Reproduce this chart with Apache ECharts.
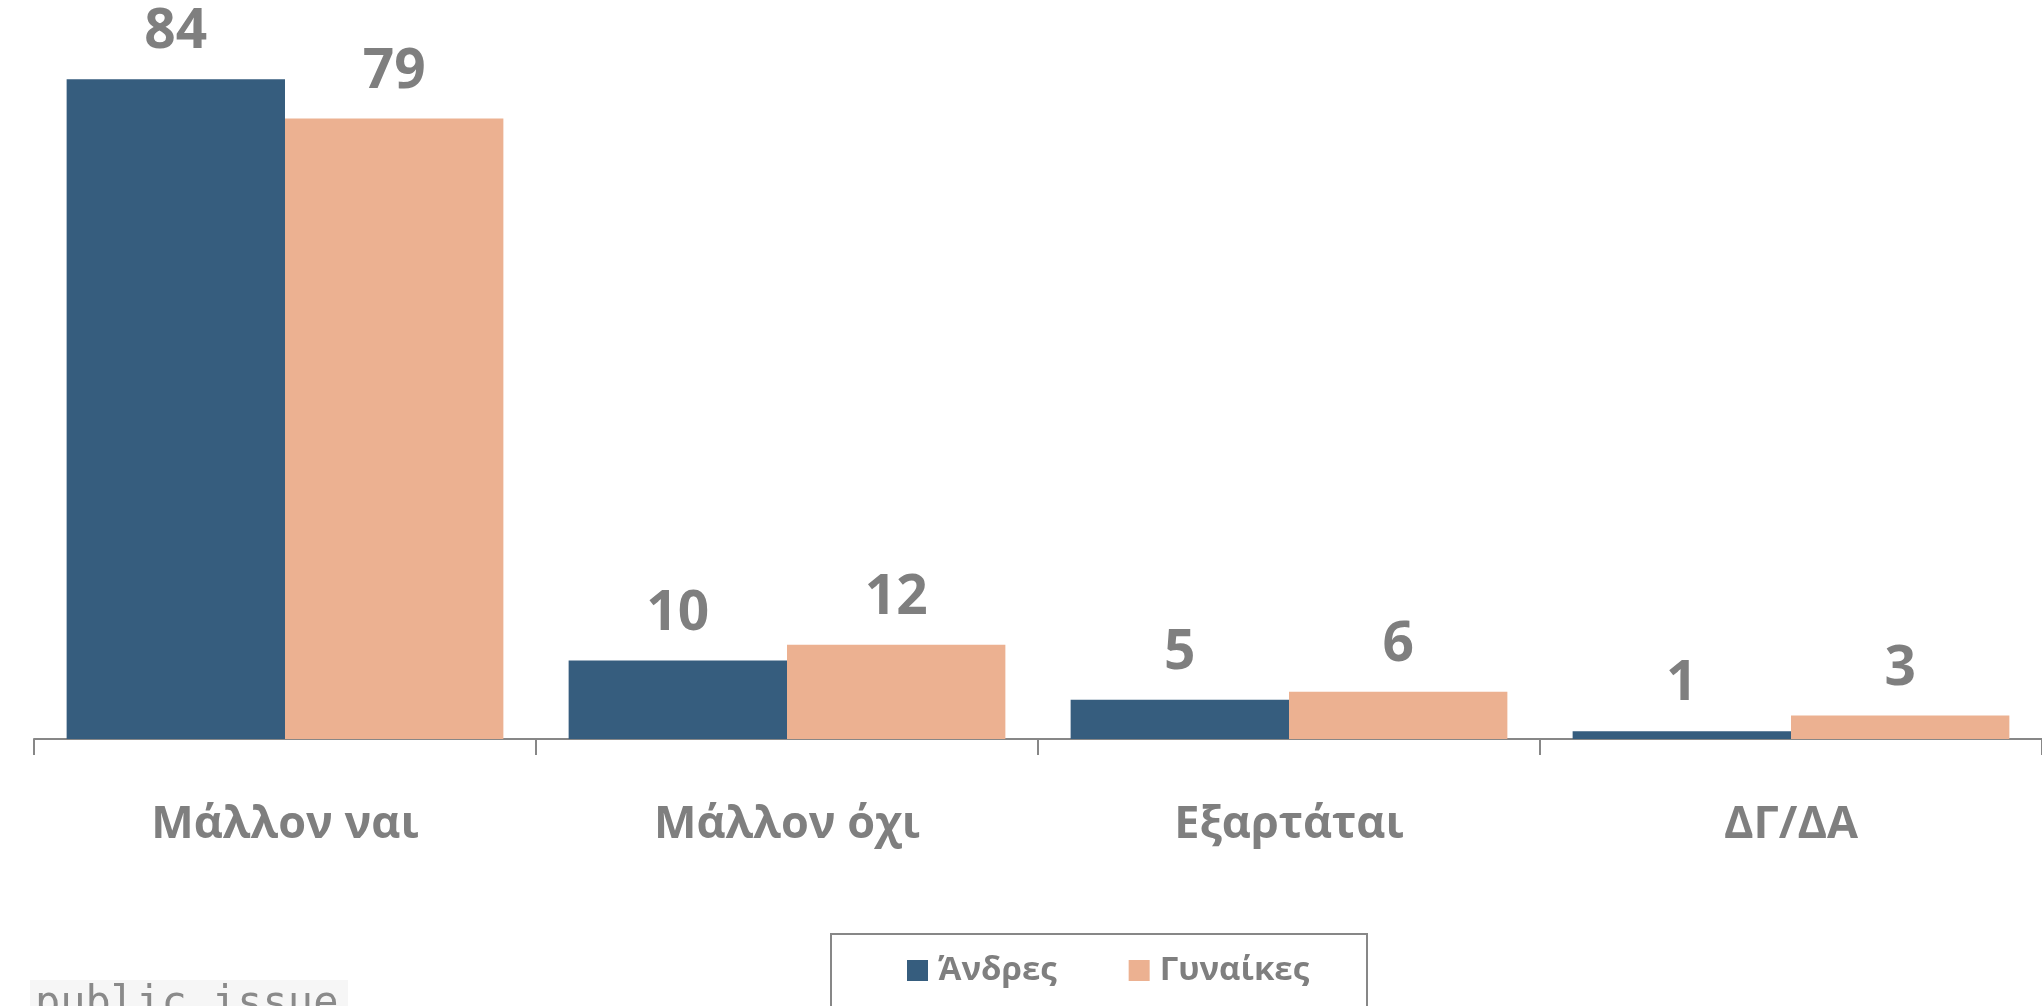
<!DOCTYPE html>
<html>
<head>
<meta charset="utf-8">
<script src="https://cdn.jsdelivr.net/npm/echarts@6/dist/echarts.min.js"></script>
<style>
  html, body { margin: 0; padding: 0; background: #fff; }
  #main { width: 2042px; height: 1006px; }
</style>
</head>
<body>
<div id="main"></div>
<script>
// κατηγορίες και τιμές (%)
var categories = ['Μάλλον ναι', 'Μάλλον όχι', 'Εξαρτάται', 'ΔΓ/ΔΑ'];
var andres = [84, 10, 5, 1];
var gynaikes = [79, 12, 6, 3];
var seriesNames = ['Άνδρες', 'Γυναίκες'];

var grey = '#7f7f7f';
var chart = echarts.init(document.getElementById('main'));

var labelStyle = {
    show: true,
    position: 'top',
    distance: 19,
    color: grey,
    fontFamily: 'Open Sans',
    fontWeight: 'bold',
    fontSize: 55
};

var option = {
    backgroundColor: '#ffffff',
    animation: false,
    grid: {
        left: 34,
        width: 2011,
        top: 32,
        bottom: 267
    },
    xAxis: {
        type: 'category',
        data: categories,
        axisLine: { lineStyle: { color: '#878787', width: 2 } },
        axisTick: { show: true, length: 16, lineStyle: { color: '#878787', width: 2 } },
        axisLabel: {
            margin: 64,
            color: grey,
            fontFamily: 'Open Sans',
            fontWeight: 'bold',
            fontSize: 45
        }
    },
    yAxis: {
        type: 'value',
        min: 0,
        max: 90,
        show: false,
        splitLine: { show: false }
    },
    legend: {
        data: seriesNames,
        left: 907,
        top: 954,
        padding: 0,
        itemGap: 72,
        itemWidth: 21,
        itemHeight: 21,
        icon: 'rect',
        textStyle: {
            color: grey,
            fontFamily: 'Open Sans',
            fontWeight: 'bold',
            fontSize: 33,
            padding: [0, 0, 0, 5]
        }
    },
    graphic: [
        {
            type: 'rect',
            shape: { x: 831, y: 934, width: 536, height: 120 },
            style: { fill: 'none', stroke: '#878787', lineWidth: 2 },
            silent: true
        },
        {
            type: 'rect',
            shape: { x: 30, y: 980, width: 318, height: 30 },
            style: { fill: '#f6f6f6' },
            silent: true
        },
        {
            type: 'text',
            x: 35,
            y: 984,
            style: {
                text: 'public issue',
                fill: '#8a8a8a',
                font: '42px "DejaVu Sans Mono"',
                verticalAlign: 'top'
            },
            silent: true
        }
    ],
    series: [
        {
            name: seriesNames[0],
            type: 'bar',
            data: andres,
            itemStyle: { color: '#365d7e' },
            barGap: '0%',
            barCategoryGap: '13%',
            label: labelStyle
        },
        {
            name: seriesNames[1],
            type: 'bar',
            data: gynaikes,
            itemStyle: { color: '#ecb191' },
            barGap: '0%',
            barCategoryGap: '13%',
            label: labelStyle
        }
    ]
};

chart.setOption(option);
</script>
</body>
</html>
